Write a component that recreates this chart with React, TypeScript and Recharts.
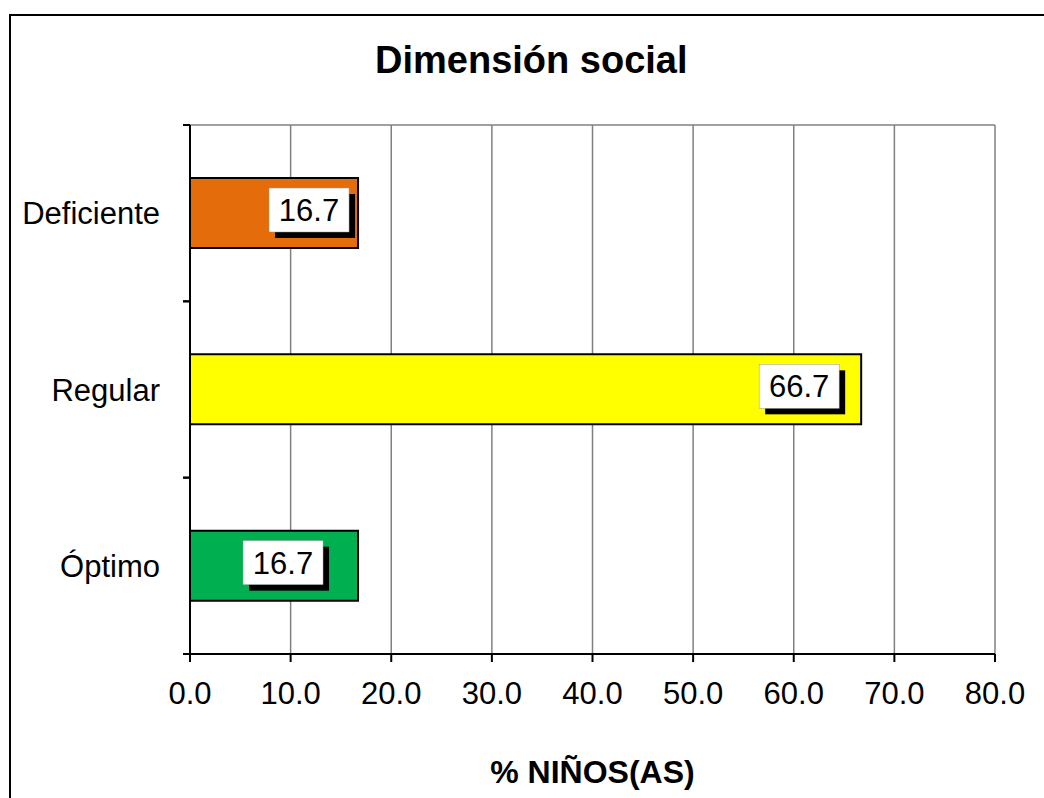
import React from 'react';
import { BarChart, Bar, XAxis, YAxis, CartesianGrid, Cell, LabelList } from 'recharts';

const categories = ['Deficiente', 'Regular', 'Óptimo'];
const percentages = [16.7, 66.7, 16.7];
const barColors = ['#E46C0A', '#FFFF00', '#00B050'];
const xTicks = [0, 10, 20, 30, 40, 50, 60, 70, 80];

const data = categories.map((name, i) => ({ name, value: percentages[i] }));

const W = 1044;
const H = 798;
const PLOT_TOP = 125;
const PLOT_BOTTOM = 654;
const PLOT_LEFT = 190;
const PLOT_RIGHT = 995;
const BAND = (PLOT_BOTTOM - PLOT_TOP) / categories.length;
const FONT = '"Liberation Sans", Arial, sans-serif';
const FS = 31;

// how far each label box sits in from the bar end (as placed in the original)
const LABEL_INSET = [9, 22, 35];

const CategoryTick = (props: any) => {
  const { y, payload } = props;
  return (
    <g>
      <line x1={PLOT_LEFT - 7} x2={PLOT_LEFT} y1={y - BAND / 2} y2={y - BAND / 2} stroke="#000" strokeWidth={2} />
      <line x1={PLOT_LEFT - 7} x2={PLOT_LEFT} y1={y + BAND / 2} y2={y + BAND / 2} stroke="#000" strokeWidth={2} />
      <text x={160} y={y} dy="0.355em" textAnchor="end" fontSize={FS} fontFamily={FONT} fill="#000">
        {payload.value}
      </text>
    </g>
  );
};

const ValueLabel = (props: any) => {
  const { x, y, width, height, value, index } = props;
  const bw = 80;
  const bh = 44;
  const right = x + width - LABEL_INSET[index % LABEL_INSET.length];
  const cy = y + height / 2 - 3;
  return (
    <g>
      <rect x={right - bw + 6} y={cy - bh / 2 + 6} width={bw} height={bh} fill="#000" />
      <rect x={right - bw} y={cy - bh / 2} width={bw} height={bh} fill="#fff" stroke="#999" strokeWidth={0.5} />
      <text x={right - bw / 2} y={cy} dy="0.355em" textAnchor="middle" fontSize={FS} fontFamily={FONT} fill="#000">
        {Number(value).toFixed(1)}
      </text>
    </g>
  );
};

const App: React.FC = () => {
  return (
    <div style={{ position: 'fixed', left: 0, top: 0, width: W, height: H, overflow: 'hidden', background: '#fff', fontFamily: FONT }}>
      <div style={{ position: 'absolute', left: 9, top: 14, width: 2000, height: 2000, borderLeft: '2px solid #000', borderTop: '2px solid #000' }} />
      <div style={{ position: 'absolute', left: 375, top: 41, fontSize: 38, fontWeight: 'bold', lineHeight: 1, whiteSpace: 'nowrap' }}>
        Dimensión social
      </div>
      <div style={{ position: 'absolute', left: PLOT_LEFT, width: PLOT_RIGHT - PLOT_LEFT, top: 756, fontSize: 32, fontWeight: 'bold', lineHeight: 1, textAlign: 'center', whiteSpace: 'nowrap' }}>
        % NIÑOS(AS)
      </div>
      <div style={{ position: 'absolute', left: 0, top: 0 }}>
        <BarChart
          width={W}
          height={H}
          data={data}
          layout="vertical"
          margin={{ top: PLOT_TOP, left: 0, right: W - PLOT_RIGHT, bottom: H - PLOT_BOTTOM - 60 }}
          barCategoryGap={0}
        >
          <CartesianGrid horizontal horizontalPoints={[PLOT_TOP]} vertical stroke="#808080" strokeWidth={1.5} />
          <XAxis
            type="number"
            domain={[0, 80]}
            ticks={xTicks}
            tickFormatter={(v: number) => v.toFixed(1)}
            height={60}
            axisLine={{ stroke: '#000', strokeWidth: 2 }}
            tickLine={{ stroke: '#000', strokeWidth: 2 }}
            tickSize={8}
            tickMargin={20}
            tick={{ fill: '#000', fontSize: FS, fontFamily: FONT }}
            interval={0}
          />
          <YAxis
            type="category"
            dataKey="name"
            width={PLOT_LEFT}
            axisLine={{ stroke: '#000', strokeWidth: 2 }}
            tickLine={false}
            tick={<CategoryTick />}
            interval={0}
          />
          <Bar dataKey="value" barSize={70} stroke="#000" strokeWidth={2} isAnimationActive={false}>
            {data.map((d, i) => (
              <Cell key={d.name} fill={barColors[i]} />
            ))}
            <LabelList dataKey="value" content={<ValueLabel />} />
          </Bar>
        </BarChart>
      </div>
    </div>
  );
};

export default App;
